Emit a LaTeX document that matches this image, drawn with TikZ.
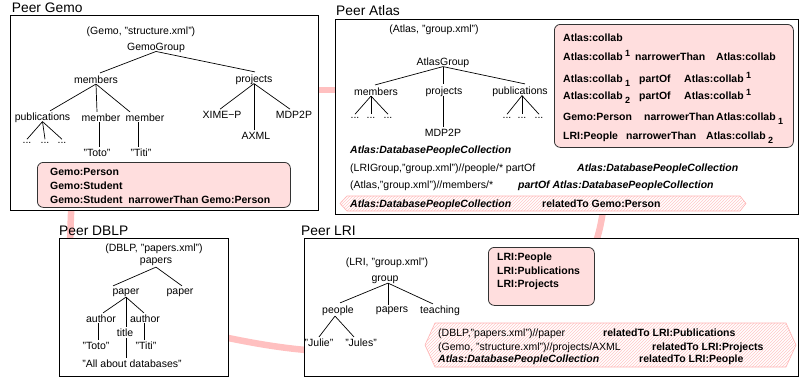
\documentclass[tikz,border=0pt]{standalone}
\usepackage{fontspec}
\setmainfont{Liberation Sans}
\usetikzlibrary{patterns}
\definecolor{pinkfill}{RGB}{255,222,222}
\definecolor{linkpink}{RGB}{255,192,192}
\definecolor{hexline}{RGB}{255,200,200}
\definecolor{hexborder}{RGB}{255,180,180}
\newcommand\supone[1]{\hspace{2.5pt}\raisebox{4pt}{\fontsize{9}{10}\selectfont #1}}
\newcommand\subone[1]{\hspace{2.5pt}\raisebox{-4pt}{\fontsize{9}{10}\selectfont #1}}
\begin{document}
\begin{tikzpicture}[x=1pt,y=-1pt,
  every node/.style={font=\fontsize{10.5}{12}\selectfont, inner sep=0pt},
  lt/.style={anchor=base west},
  bt/.style={anchor=base west, font=\fontsize{10.5}{12}\selectfont\bfseries},
  bit/.style={anchor=base west, font=\fontsize{10.5}{12}\selectfont\bfseries\itshape},
  head/.style={anchor=base west, font=\fontsize{13.8}{15}\selectfont},
  peerbox/.style={draw=black, fill=white, line width=0.9pt, anchor=north west},
  ontobox/.style={draw=black!80, fill=pinkfill, rounded corners=6pt, line width=0.8pt, anchor=north west},
  link/.style={draw=linkpink, line width=6.5pt},
  treeline/.style={draw=black, line width=0.7pt},
  hexbox/.style={draw=hexborder, pattern=north east lines, pattern color=hexline, line width=0.6pt}
]
\useasboundingbox (0,0) rectangle (800,381);

% ---- links between peers (behind boxes)
\coordinate (lga) at (300,90);
\coordinate (lgb) at (350,90);
\coordinate (lgda) at (72,190);
\coordinate (lgdb) at (70,255);
\coordinate (lala) at (604,190);
\coordinate (lalb) at (590,260);
\coordinate (ldla) at (205,333);
\coordinate (ldlb) at (320,351);
\draw[link] (lga) -- (lgb);
\draw[link] (lgda) .. controls (71,215) and (70,235) .. (lgdb);
\draw[link] (lala) .. controls (604,215) and (600,232) .. (lalb);
\draw[link] (ldla) .. controls (250,343) and (285,349) .. (ldlb);

% ---- peer boxes
\node[peerbox, minimum width=308pt, minimum height=195pt] (gemobox) at (10,15) {};
\node[peerbox, minimum width=463pt, minimum height=195pt] (atlasbox) at (335,19) {};
\node[peerbox, minimum width=169pt, minimum height=138pt] (dblpbox) at (59,238) {};
\node[peerbox, minimum width=494pt, minimum height=138pt] (lribox) at (304,238) {};

% ---- headings
\node[head] (hgemo) at (11.7,12.5) {Peer Gemo};
\node[head] (hatlas) at (336,15) {Peer Atlas};
\node[head] (hdblp) at (59,235) {Peer DBLP};
\node[head] (hlri) at (301,235) {Peer LRI};

% ================= Gemo
\node (gtitle) at (141,32) {(Gemo, "structure.xml")};
\node (ggroup) at (156,48) {GemoGroup};
\node (gmembers) at (96,80) {members};
\node (gprojects) at (254,80) {projects};
\node (gpubs) at (42.5,118) {publications};
\node (gmone) at (101,118) {member};
\node (gmtwo) at (145,118) {member};
\node (gdone) at (27,143) {...};
\node (gdtwo) at (45,143) {...};
\node (gdthree) at (62,143) {...};
\node (gximep) at (222,115) {XIME−P};
\node (gmdp) at (294,115) {MDP2P};
\node (gaxml) at (256,136) {AXML};
\node (gtoto) at (97,153) {"Toto"};
\node (gtiti) at (141,153) {"Titi"};
\draw[treeline] ([yshift=1.5pt]ggroup.south) -- ([xshift=4pt,yshift=3pt]gmembers.north);
\draw[treeline] ([yshift=1.5pt]ggroup.south) -- ([xshift=1pt,yshift=3pt]gprojects.north);
\draw[treeline] (gmembers.south) -- ([xshift=7.5pt,yshift=2pt]gpubs.north);
\draw[treeline] (gmembers.south) -- ([xshift=-4pt,yshift=2pt]gmone.north);
\draw[treeline] (gmembers.south) -- ([xshift=-15pt,yshift=2pt]gmtwo.north);
\draw[treeline] ([yshift=1.5pt]gpubs.south) -- ([yshift=3pt]gdone.north);
\draw[treeline] ([yshift=1.5pt]gpubs.south) -- ([yshift=3pt]gdtwo.north);
\draw[treeline] ([yshift=1.5pt]gpubs.south) -- ([yshift=3pt]gdthree.north);
\draw[treeline] ([yshift=1.5pt]gprojects.south) -- ([xshift=-2pt,yshift=2pt]gximep.north);
\draw[treeline] ([yshift=1.5pt]gprojects.south) -- ([yshift=2pt]gprojects.south |- gaxml.north);
\draw[treeline] ([yshift=1.5pt]gprojects.south) -- ([xshift=-4pt,yshift=2pt]gmdp.north);
\draw[treeline] ([xshift=-2pt]gmone.south) -- ([xshift=-2pt,yshift=2pt]gmone.south |- gtoto.north);
\draw[treeline] ([xshift=-7pt]gmtwo.south) -- ([xshift=-7pt,yshift=2pt]gmtwo.south |- gtiti.north);

\node[ontobox, minimum width=253pt, minimum height=45pt] (gemoonto) at (37,162) {};
\node[bt] (goone) at (50,175.5) {Gemo:Person};
\node[bt] (gotwo) at (50,189) {Gemo:Student};
\node[bt] (gothree) at (50,203) {Gemo:Student\hspace{3pt} narrowerThan Gemo:Person};

% ================= Atlas
\node (atitle) at (434,30) {(Atlas, "group.xml")};
\node (agroup) at (443,63) {AtlasGroup};
\node (amembers) at (376,92) {members};
\node (aprojects) at (444,92) {projects};
\node (apubs) at (520,92) {publications};
\node (amdone) at (355,118) {...};
\node (amdtwo) at (371,118) {...};
\node (amdthree) at (388,118) {...};
\node (apdone) at (507,118) {...};
\node (apdtwo) at (522,118) {...};
\node (apdthree) at (539,118) {...};
\node (amdp) at (443,133) {MDP2P};
\draw[treeline] ([yshift=1.5pt]agroup.south) -- ([xshift=-1pt,yshift=3pt]amembers.north);
\draw[treeline] ([yshift=1.5pt]agroup.south) -- ([yshift=3pt]agroup.south |- aprojects.north);
\draw[treeline] ([yshift=1.5pt]agroup.south) -- ([xshift=5pt,yshift=3pt]apubs.north);
\draw[treeline] ([xshift=-5pt]amembers.south) -- ([yshift=3pt]amdone.north);
\draw[treeline] ([xshift=-5pt]amembers.south) -- ([yshift=3pt]amdtwo.north);
\draw[treeline] ([xshift=-5pt]amembers.south) -- ([yshift=3pt]amdthree.north);
\draw[treeline] ([xshift=2pt,yshift=1.5pt]apubs.south) -- ([yshift=3pt]apdone.north);
\draw[treeline] ([xshift=2pt,yshift=1.5pt]apubs.south) -- ([yshift=3pt]apdtwo.north);
\draw[treeline] ([xshift=2pt,yshift=1.5pt]apubs.south) -- ([yshift=3pt]apdthree.north);
\draw[treeline] ([xshift=-1pt,yshift=1.5pt]aprojects.south) -- ([yshift=2pt]amdp.north);

\node[bit] (adpc) at (350,153.5) {Atlas:DatabasePeopleCollection};
\node[lt] (arone) at (350,171.5) {(LRIGroup,"group.xml")//people/* partOf};
\node[bit] (aronetgt) at (577,171.5) {Atlas:DatabasePeopleCollection};
\node[lt] (artwo) at (350,188.5) {(Atlas,"group.xml")//members/*};
\node[bit] (artwotgt) at (518,188.5) {partOf Atlas:DatabasePeopleCollection};
\path[hexbox] (340,203.5) -- (347,196) -- (740,196) -- (746,203.5) -- (740,211) -- (347,211) -- cycle;
\node[bit] (arthree) at (350,207) {Atlas:DatabasePeopleCollection};
\node[bt] (arthreetgt) at (542,207) {relatedTo Gemo:Person};

\node[ontobox, minimum width=239pt, minimum height=123pt] (atlasonto) at (554,24) {};
\node[bt] (aoa) at (563,41.5) {Atlas:collab};
\node[bt] (aob) at (563,60) {Atlas:collab\supone{1}};
\node[bt] (aobr) at (635,60) {narrowerThan};
\node[bt] (aobt) at (716,60) {Atlas:collab};
\node[bt] (aoc) at (563,82) {Atlas:collab\subone{1}};
\node[bt] (aocr) at (639,82) {partOf};
\node[bt] (aoct) at (684,82) {Atlas:collab\supone{1}};
\node[bt] (aod) at (563,99.5) {Atlas:collab\subone{2}};
\node[bt] (aodr) at (639,99.5) {partOf};
\node[bt] (aodt) at (684,99.5) {Atlas:collab\supone{1}};
\node[bt] (aoe) at (563,120.5) {Gemo:Person};
\node[bt] (aoer) at (644,120.5) {narrowerThan};
\node[bt] (aoet) at (716,120.5) {Atlas:collab\subone{1}};
\node[bt] (aof) at (563,139.5) {LRI:People};
\node[bt] (aofr) at (626,139.5) {narrowerThan};
\node[bt] (aoft) at (706,139.5) {Atlas:collab\subone{2}};

% ================= DBLP
\node (dtitle) at (154,249) {(DBLP, "papers.xml")};
\node (dpapers) at (156,262) {papers};
\node (dpaperone) at (126,293) {paper};
\node (dpapertwo) at (180,293) {paper};
\node (dauone) at (101,319) {author};
\node (dautwo) at (145,319) {author};
\node (dtitlenode) at (125,333) {title};
\node (dtoto) at (96,346) {"Toto"};
\node (dtiti) at (146,346) {"Titi"};
\node (dall) at (132,364) {"All about databases"};
\draw[treeline] ([yshift=-1pt]dpapers.south) -- ([xshift=-13pt,yshift=3pt]dpaperone.north);
\draw[treeline] ([yshift=-1pt]dpapers.south) -- ([xshift=2pt,yshift=3pt]dpapertwo.north);
\draw[treeline] (dpaperone.south) -- ([xshift=2pt,yshift=2pt]dauone.north);
\draw[treeline] (dpaperone.south) -- ([yshift=2pt]dpaperone.south |- dtitlenode.north);
\draw[treeline] (dpaperone.south) -- ([xshift=-1pt,yshift=2pt]dautwo.north);
\draw[treeline] ([xshift=-3pt]dauone.south) -- ([xshift=-3pt,yshift=2pt]dauone.south |- dtoto.north);
\draw[treeline] ([xshift=-1pt]dautwo.south) -- ([xshift=-1pt,yshift=2pt]dautwo.south |- dtiti.north);
\draw[treeline] ([xshift=1pt,yshift=-1pt]dtitlenode.south) -- ([xshift=1pt,yshift=2pt]dtitlenode.south |- dall.north);

% ================= LRI
\node (ltitle) at (387,263) {(LRI, "group.xml")};
\node (lgroup) at (385,280) {group};
\node (lpeople) at (338,311) {people};
\node (lpapers) at (392,311) {papers};
\node (lteaching) at (440,311) {teaching};
\node (ljulie) at (319,343) {"Julie"};
\node (ljules) at (361,343) {"Jules"};
\draw[treeline] ([xshift=3pt,yshift=1pt]lgroup.south) -- ([xshift=2pt,yshift=3pt]lpeople.north);
\draw[treeline] ([xshift=3pt,yshift=1pt]lgroup.south) -- ([xshift=3pt,yshift=2pt]lgroup.south |- lpapers.north);
\draw[treeline] ([xshift=3pt,yshift=1pt]lgroup.south) -- ([xshift=-7pt,yshift=2pt]lteaching.north);
\draw[treeline] ([xshift=-3pt]lpeople.south) -- ([yshift=2pt]ljulie.north);
\draw[treeline] ([xshift=-3pt]lpeople.south) -- ([xshift=-7pt,yshift=2pt]ljules.north);

\node[ontobox, minimum width=106pt, minimum height=58pt] (lrionto) at (488,247) {};
\node[bt] (loa) at (497,260.5) {LRI:People};
\node[bt] (lob) at (497,274.5) {LRI:Publications};
\node[bt] (loc) at (497,287.5) {LRI:Projects};

\path[hexbox] (425,345) -- (435,323) -- (786,323) -- (796,345) -- (786,367) -- (435,367) -- cycle;
\node[lt] (lra) at (438,336.5) {(DBLP,"papers.xml")//paper};
\node[bt] (lrat) at (603,336.5) {relatedTo LRI:Publications};
\node[lt] (lrb) at (438,350.5) {(Gemo, "structure.xml")//projects/AXML};
\node[bt] (lrbt) at (652,350.5) {relatedTo LRI:Projects};
\node[bit] (lrc) at (438,362.5) {Atlas:DatabasePeopleCollection};
\node[bt] (lrct) at (639,362.5) {relatedTo LRI:People};
\end{tikzpicture}
\end{document}
